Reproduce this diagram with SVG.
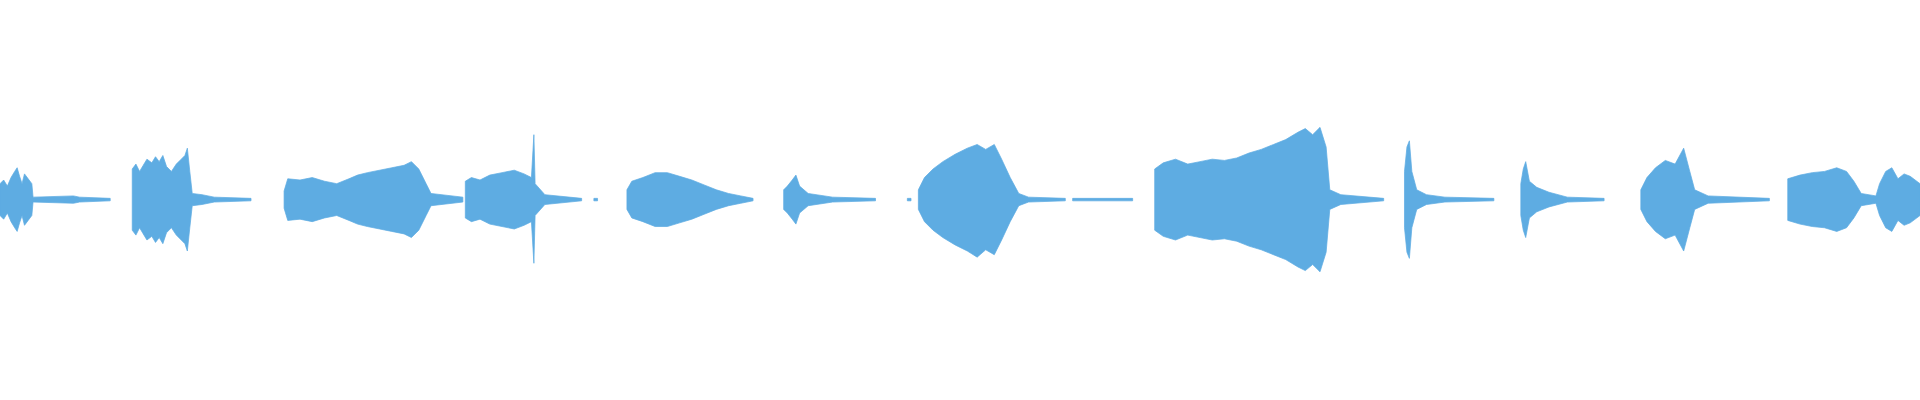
<svg xmlns="http://www.w3.org/2000/svg" width="1920" height="400" viewBox="0 0 1920 400">
<style>.w{fill:#5eace2;stroke:#5eace2;stroke-width:0.6}</style>
<rect width="1920" height="400" fill="#fff"/>
<g transform="scale(1.22449)" class="w">
<path d="M0,150 L3,147 L6,152 L9,145 L12,140 L14,137 L16,144 L18,150 L20,142 L23,146 L26,150 L27,161 L60,160 L65,161 L90,162 L90,164 L65,165 L60,166 L27,165 L26,176 L23,180 L20,184 L18,176 L16,182 L14,189 L12,186 L9,181 L6,174 L3,179 L0,176 Z"/>
<path d="M108,138 L111,134 L114,140 L117,135 L120,130 L124,133 L127,128 L130,132 L133,127 L136,136 L140,140 L144,134 L148,130 L151,127 L153,121 L155,140 L157,158 L165,159 L175,161 L205,162 L205,164 L175,165 L165,167 L157,168 L155,186 L153,205 L151,199 L148,196 L144,192 L140,186 L136,190 L133,199 L130,194 L127,198 L124,193 L120,196 L117,191 L114,186 L111,192 L108,188 Z"/>
<path d="M232,156 L235,146 L245,147 L255,145 L265,148 L275,150 L285,146 L292,143 L300,141 L310,139 L320,137 L330,135 L336,132 L342,138 L348,150 L352,158 L378,161 L378,165 L352,168 L348,176 L342,188 L336,194 L330,191 L320,189 L310,187 L300,185 L292,183 L285,180 L275,176 L265,178 L255,181 L245,179 L235,180 L232,170 Z"/>
<path d="M380,148 L385,145 L392,147 L400,143 L410,141 L420,139 L428,142 L434,145 L436,110 L437,150 L445,159 L475,162 L475,164 L445,167 L437,176 L436,215 L434,181 L428,184 L420,187 L410,185 L400,183 L392,179 L385,181 L380,178 Z"/>
<path d="M485,162 L488,162 L488,164 L485,164 Z"/>
<path d="M512,155 L516,148 L525,145 L535,141 L545,141 L555,144 L565,147 L575,151 L585,155 L595,158 L605,160 L615,162 L615,164 L605,166 L595,168 L585,171 L575,175 L565,179 L555,182 L545,185 L535,185 L525,181 L516,178 L512,171 Z"/>
<path d="M640,155 L643,152 L647,147 L650,143 L653,152 L660,158 L680,161 L715,162 L715,164 L680,165 L660,168 L653,174 L650,183 L647,179 L643,174 L640,171 Z"/>
<path d="M741,162 L744,162 L744,164 L741,164 Z"/>
<path d="M750,155 L755,145 L762,138 L770,132 L780,126 L790,121 L798,118 L805,122 L812,118 L818,130 L825,145 L832,158 L840,161 L870,162 L870,164 L840,165 L832,168 L825,181 L818,196 L812,208 L805,204 L798,210 L790,205 L780,200 L770,194 L762,188 L755,181 L750,171 Z"/>
<path d="M876,162 L925,162 L925,164 L876,164 Z"/>
<path d="M943,138 L950,133 L960,130 L970,134 L980,132 L990,130 L1000,131 L1010,129 L1020,125 L1030,122 L1040,118 L1050,114 L1060,108 L1066,105 L1072,110 L1078,104 L1083,120 L1086,155 L1095,159 L1130,162 L1130,164 L1095,167 L1086,171 L1083,206 L1078,222 L1072,216 L1066,221 L1060,218 L1050,212 L1040,208 L1030,204 L1020,201 L1010,197 L1000,195 L990,196 L980,194 L970,192 L960,196 L950,193 L943,188 Z"/>
<path d="M1147,140 L1149,120 L1151,115 L1153,140 L1157,155 L1165,159 L1180,161 L1220,162 L1220,164 L1180,165 L1165,167 L1157,171 L1153,186 L1151,211 L1149,206 L1147,186 Z"/>
<path d="M1242,150 L1244,138 L1246,132 L1249,148 L1255,153 L1265,157 L1280,161 L1310,162 L1310,164 L1280,165 L1265,169 L1255,173 L1249,178 L1246,194 L1244,188 L1242,176 Z"/>
<path d="M1340,155 L1345,145 L1352,137 L1360,131 L1368,134 L1375,121 L1380,140 L1384,155 L1395,160 L1445,162 L1445,164 L1395,166 L1384,171 L1380,186 L1375,205 L1368,192 L1360,195 L1352,189 L1345,181 L1340,171 Z"/>
<path d="M1460,146 L1470,143 L1480,141 L1490,140 L1500,137 L1508,140 L1514,148 L1520,158 L1532,160 L1535,150 L1540,140 L1545,137 L1550,146 L1555,142 L1560,144 L1568,150 L1568,176 L1560,182 L1555,184 L1550,180 L1545,189 L1540,186 L1535,176 L1532,166 L1520,168 L1514,178 L1508,186 L1500,189 L1490,186 L1480,185 L1470,183 L1460,180 Z"/>
</g>
</svg>
